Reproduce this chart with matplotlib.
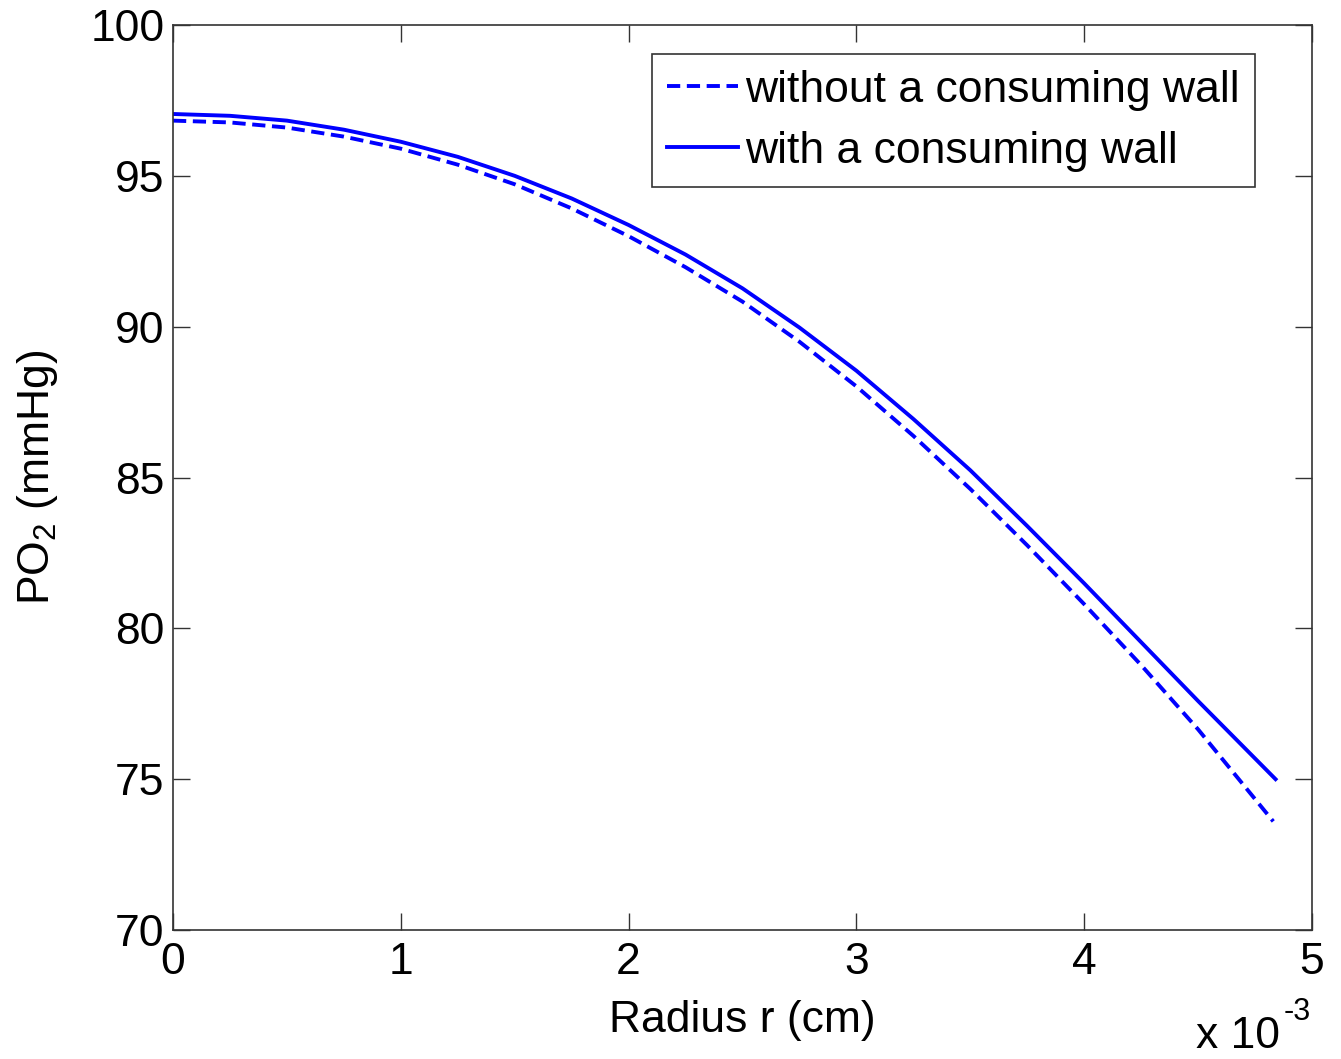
import matplotlib
matplotlib.use("Agg")
import matplotlib.pyplot as plt

plt.rcParams['font.family'] = ['Liberation Sans', 'DejaVu Sans']
plt.rcParams['mathtext.fontset'] = 'custom'
plt.rcParams['mathtext.rm'] = 'Liberation Sans'
plt.rcParams['mathtext.it'] = 'Liberation Sans'

# radius in units of 1e-3 cm
r_with = [0, 0.25, 0.5, 0.75, 1.0, 1.25, 1.5, 1.75, 2.0, 2.25, 2.5, 2.75,
          3.0, 3.25, 3.5, 3.75, 4.0, 4.25, 4.5, 4.84]
po2_with = [97.05, 96.99, 96.83, 96.53, 96.13, 95.63, 95.00, 94.25, 93.37,
            92.39, 91.27, 89.97, 88.54, 86.94, 85.24, 83.39, 81.49, 79.54,
            77.59, 75.0]

r_without = [0, 0.25, 0.5, 0.75, 1.0, 1.25, 1.5, 1.75, 2.0, 2.25, 2.5, 2.75,
             3.0, 3.25, 3.5, 3.75, 4.0, 4.25, 4.5, 4.83]
po2_without = [96.83, 96.77, 96.60, 96.30, 95.90, 95.37, 94.72, 93.92, 93.00,
               91.97, 90.83, 89.50, 88.02, 86.38, 84.62, 82.75, 80.80, 78.78,
               76.65, 73.6]

x_ticks = [0, 1, 2, 3, 4, 5]
y_ticks = [70, 75, 80, 85, 90, 95, 100]
labels = ['without a consuming wall', 'with a consuming wall']

FS = 32

fig = plt.figure(figsize=(13.41, 10.59), dpi=100)
ax = fig.add_axes([173/1341, 1-930/1059, (1312-173)/1341, (930-25)/1059])

ax.plot([v*1e-3 for v in r_without], po2_without, color='#0000ff', lw=2.8,
        dashes=(3.4, 1.7), label=labels[0])
ax.plot([v*1e-3 for v in r_with], po2_with, color='#0000ff', lw=2.8,
        label=labels[1])

ax.set_xlim(0, 5e-3)
ax.set_ylim(70, 100)
ax.set_xticks([v*1e-3 for v in x_ticks])
ax.set_xticklabels([str(v) for v in x_ticks])
ax.set_yticks(y_ticks)
ax.set_yticklabels([str(v) for v in y_ticks])
ax.tick_params(direction='in', length=12, width=1, top=True, right=True,
               labelsize=FS, color='#333333')
ax.tick_params(axis='x', pad=9)
ax.tick_params(axis='y', pad=6)
for s in ax.spines.values():
    s.set_linewidth(1.2)
    s.set_color('#333333')

ax.set_xlabel('Radius r (cm)', fontsize=FS, labelpad=12)
ax.set_ylabel('PO$_2$ (mmHg)', fontsize=FS, labelpad=22)

fig.text(1196/1341, 1-1036/1059, 'x 10', fontsize=FS, ha='left', va='center')
fig.text(1284/1341, 1-1012/1059, '-3', fontsize=22, ha='left', va='center')

leg = ax.legend(loc='upper right', bbox_to_anchor=(0.950, 0.968),
                borderaxespad=0, fontsize=FS, handlelength=1.6,
                handletextpad=0.15, labelspacing=0.45, borderpad=0.35,
                fancybox=False, framealpha=1)
leg.get_frame().set_edgecolor('#333333')
leg.get_frame().set_linewidth(1.2)

fig.savefig('out.png', dpi=100)
